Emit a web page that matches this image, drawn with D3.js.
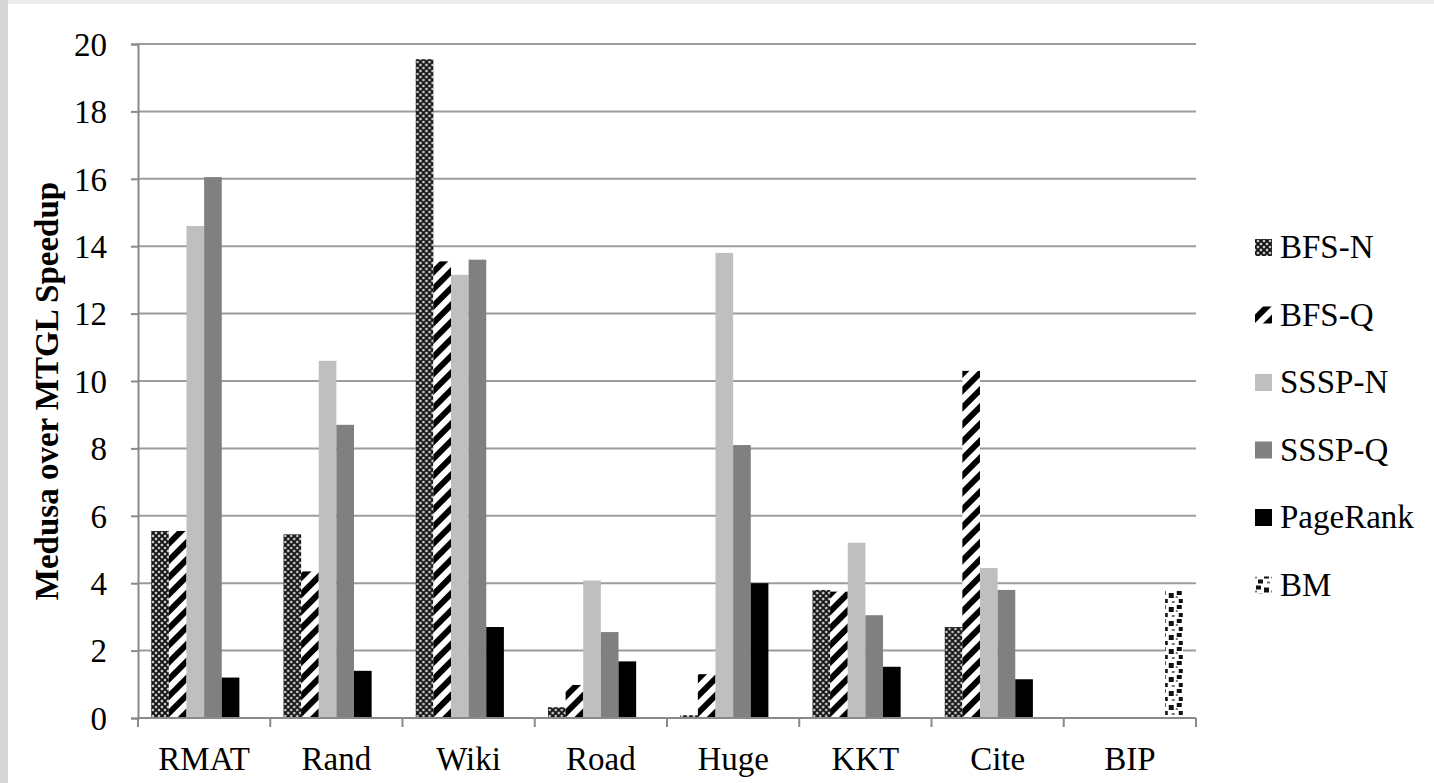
<!DOCTYPE html>
<html>
<head>
<meta charset="utf-8">
<script src="https://cdn.jsdelivr.net/npm/d3@7"></script>
<style>
  body { margin: 0; background: #fff; }
  #chart { width: 1434px; height: 783px; }
</style>
</head>
<body>
<div id="chart"></div>
<script>
// graphs on the x axis
var categories = ["RMAT", "Rand", "Wiki", "Road", "Huge", "KKT", "Cite", "BIP"];
var seriesNames = ["BFS-N", "BFS-Q", "SSSP-N", "SSSP-Q", "PageRank", "BM"];

// speedup per series, one value per graph
var bfsN     = [5.55, 5.45, 19.55, 0.32, 0.08, 3.8, 2.7, 0];
var bfsQ     = [5.55, 4.35, 13.55, 0.98, 1.3, 3.75, 10.3, 0];
var ssspN    = [14.6, 10.6, 13.15, 4.08, 13.8, 5.2, 4.45, 0];
var ssspQ    = [16.05, 8.7, 13.6, 2.55, 8.1, 3.05, 3.8, 0];
var pageRank = [1.2, 1.4, 2.7, 1.68, 4.0, 1.52, 1.15, 0];
var bm       = [0, 0, 0, 0, 0, 0, 0, 3.8];

var yTicks = [0, 2, 4, 6, 8, 10, 12, 14, 16, 18, 20];

var seriesValues = [bfsN, bfsQ, ssspN, ssspQ, pageRank, bm];
var fills = ["url(#p-bfsn)", "url(#p-bfsq)", "#bfbfbf", "#808080", "#000", "url(#p-bm)"];

var FONT = "'Liberation Serif', 'DejaVu Serif', serif";

var W = 1434, H = 783;
var margin = { top: 44, right: 238, bottom: 65, left: 138 };
var width = W - margin.left - margin.right,
    height = H - margin.top - margin.bottom;

var svg = d3.select("#chart").append("svg")
    .attr("width", W)
    .attr("height", H)
    .style("font-family", FONT);

// light grey frame of the scanned page
svg.append("rect").attr("x", 0).attr("y", 0).attr("width", W).attr("height", 4).attr("fill", "#ececec");
svg.append("rect").attr("x", 0).attr("y", 0).attr("width", 8).attr("height", H).attr("fill", "#d6d6d6");

// hatch patterns used by the series
var defs = svg.append("defs");

var pN = defs.append("pattern").attr("id", "p-bfsn")
    .attr("patternUnits", "userSpaceOnUse").attr("width", 6).attr("height", 6);
pN.append("rect").attr("width", 6).attr("height", 6).attr("fill", "#cfcfcf");
pN.append("path").attr("d", "M0,0L6,6M6,0L0,6M-1,5L1,7M5,-1L7,1")
    .attr("stroke", "#111").attr("stroke-width", 1.9);

var pQ = defs.append("pattern").attr("id", "p-bfsq")
    .attr("patternUnits", "userSpaceOnUse").attr("width", 12).attr("height", 12)
    .attr("patternTransform", "rotate(45)");
pQ.append("rect").attr("width", 12).attr("height", 12).attr("fill", "#fff");
pQ.append("rect").attr("width", 6).attr("height", 12).attr("fill", "#000");

var pB = defs.append("pattern").attr("id", "p-bm")
    .attr("patternUnits", "userSpaceOnUse").attr("width", 16).attr("height", 14);
pB.append("rect").attr("width", 16).attr("height", 14).attr("fill", "#fff");
pB.append("rect").attr("x", 1).attr("y", 1).attr("width", 5).attr("height", 4).attr("fill", "#111");
pB.append("rect").attr("x", 9).attr("y", 3).attr("width", 5).attr("height", 5).attr("fill", "#111");
pB.append("rect").attr("x", 3).attr("y", 9).attr("width", 5).attr("height", 4).attr("fill", "#111");
pB.append("rect").attr("x", 12).attr("y", 11).attr("width", 3).attr("height", 2).attr("fill", "#777");
pB.append("rect").attr("x", 0).attr("y", 6).attr("width", 2).attr("height", 2).attr("fill", "#777");

var g = svg.append("g")
    .attr("transform", "translate(" + margin.left + "," + margin.top + ")");

var x0 = d3.scaleBand().domain(categories).range([0, width]).paddingInner(0).paddingOuter(0);
var bandGap = 1.5 / 7.5;
var x1 = d3.scaleBand().domain(seriesNames)
    .range([x0.bandwidth() * bandGap / 2, x0.bandwidth() * (1 - bandGap / 2)]);
var y = d3.scaleLinear().domain([0, 20]).range([height, 0]);

// horizontal grid
g.append("g").selectAll("line")
    .data(yTicks.filter(function(d) { return d > 0; }))
    .enter().append("line")
    .attr("x1", 0).attr("x2", width)
    .attr("y1", function(d) { return y(d); })
    .attr("y2", function(d) { return y(d); })
    .attr("stroke", "#9c9c9c").attr("stroke-width", 2);

// bars
var groups = g.selectAll(".grp")
    .data(categories)
    .enter().append("g")
    .attr("class", "grp")
    .attr("transform", function(d) { return "translate(" + x0(d) + ",0)"; });

groups.selectAll("rect")
    .data(function(cat, ci) {
        return seriesNames.map(function(s, si) {
            return { series: s, value: seriesValues[si][ci], fill: fills[si] };
        }).filter(function(d) { return d.value > 0; });
    })
    .enter().append("rect")
    .attr("x", function(d) { return x1(d.series); })
    .attr("width", x1.bandwidth())
    .attr("y", function(d) { return y(d.value); })
    .attr("height", function(d) { return height - y(d.value); })
    .attr("fill", function(d) { return d.fill; });

// y axis
var yAxis = g.append("g")
    .call(d3.axisLeft(y).tickValues(yTicks).tickSize(7).tickPadding(24));
yAxis.attr("font-family", null).attr("font-size", null);
yAxis.selectAll("line").attr("stroke", "#8a8a8a").attr("stroke-width", 2);
yAxis.select(".domain").attr("stroke", "#8a8a8a").attr("stroke-width", 2);
yAxis.selectAll("text")
    .style("font-family", FONT)
    .style("font-size", "33px")
    .attr("fill", "#000")
    .attr("dy", "0.34em");

// x axis with ticks on group boundaries
var xAxis = g.append("g").attr("transform", "translate(0," + height + ")");
xAxis.append("line").attr("x1", 0).attr("x2", width)
    .attr("stroke", "#8a8a8a").attr("stroke-width", 2);
xAxis.selectAll(".tk")
    .data(categories.map(function(c) { return x0(c); }).concat([width]))
    .enter().append("line")
    .attr("x1", function(d) { return d; }).attr("x2", function(d) { return d; })
    .attr("y1", 0).attr("y2", 9)
    .attr("stroke", "#8a8a8a").attr("stroke-width", 2);
xAxis.selectAll(".lbl")
    .data(categories)
    .enter().append("text")
    .attr("x", function(d) { return x0(d) + x0.bandwidth() / 2; })
    .attr("y", 52)
    .attr("text-anchor", "middle")
    .style("font-family", FONT)
    .style("font-size", "33px")
    .text(function(d) { return d; });

// y title
svg.append("text")
    .attr("transform", "translate(58," + (margin.top + height / 2 + 10) + ") rotate(-90)")
    .attr("text-anchor", "middle")
    .style("font-family", FONT)
    .style("font-size", "33px")
    .style("font-weight", "bold")
    .text("Medusa over MTGL Speedup");

// legend
var legend = svg.append("g").attr("transform", "translate(1255,247)");
var items = legend.selectAll("g")
    .data(seriesNames)
    .enter().append("g")
    .attr("transform", function(d, i) { return "translate(0," + (i * 67.5) + ")"; });
items.append("rect")
    .attr("x", 0).attr("y", -8).attr("width", 17).attr("height", 17)
    .attr("fill", function(d, i) { return fills[i]; });
items.append("text")
    .attr("x", 25).attr("y", 11)
    .style("font-family", FONT)
    .style("font-size", "33px")
    .text(function(d) { return d; });
</script>
</body>
</html>
